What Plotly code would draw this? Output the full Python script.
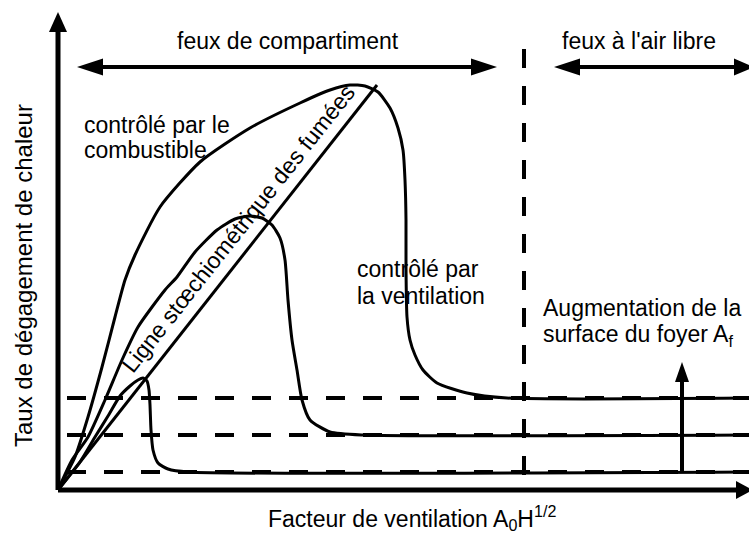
import math
import plotly.graph_objects as go

# Courbe haute (grand foyer)
grand_x = [0, 17, 30, 44, 57, 67, 77, 102, 142, 192, 242, 272, 292, 307, 320, 332, 340, 345, 347, 348, 348, 349, 352, 357, 365, 379, 409, 449, 700]
grand_y = [0, 33, 73, 123, 173, 210, 235, 283, 328, 362, 387, 400, 405, 404, 398, 382, 362, 340, 310, 270, 223, 173, 150, 135, 120, 107, 97, 92, 92]

# Courbe moyenne
moyen_x = [0, 14, 30, 47, 64, 80, 107, 119, 137, 159, 177, 192, 204, 214, 222, 227, 230, 234, 239, 244, 252, 272, 305, 700]
moyen_y = [0, 30, 53, 90, 130, 163, 200, 213, 238, 260, 271, 274, 272, 265, 252, 230, 190, 150, 120, 90, 70, 58, 55, 55]

# Courbe basse (petit foyer)
petit_x = [0, 22, 37, 50, 62, 72, 80, 85, 89, 91, 92, 93, 95, 100, 110, 130, 700]
petit_y = [0, 28, 53, 74, 94, 104, 110, 112, 109, 100, 85, 60, 40, 27, 21, 18, 18]

# Ligne stoechiométrique
stoech_x = [0, 319]
stoech_y = [0, 405]

# Paliers (tirets) et limite compartiment / air libre
paliers = [92, 55, 18]
limite_x = 466

noir = "black"
fig = go.Figure()

# Paliers en tirets
for p in paliers:
    fig.add_trace(go.Scatter(x=[9, 700], y=[p, p], mode="lines",
                             line=dict(color=noir, width=4, dash="19px,18px")))

# Limite verticale en tirets
fig.add_trace(go.Scatter(x=[limite_x, limite_x], y=[441, 12], mode="lines",
                         line=dict(color=noir, width=4, dash="19px,18px")))

# Courbes
for cx, cy in [(grand_x, grand_y), (moyen_x, moyen_y), (petit_x, petit_y)]:
    fig.add_trace(go.Scatter(x=cx, y=cy, mode="lines",
                             line=dict(color=noir, width=3, shape="spline", smoothing=0.6)))

fig.add_trace(go.Scatter(x=stoech_x, y=stoech_y, mode="lines", line=dict(color=noir, width=3)))


def fleche(x0, y0, x1, y1, w=4, long=26, demi=8.5):
    # trait + pointe triangulaire vers (x1, y1)
    dx, dy = x1 - x0, y1 - y0
    n = math.hypot(dx, dy)
    ux, uy = dx / n, dy / n
    bx, by = x1 - ux * long, y1 - uy * long
    fig.add_shape(type="line", x0=x0, y0=y0, x1=bx, y1=by, line=dict(color=noir, width=w))
    px_, py_ = -uy * demi, ux * demi
    fig.add_shape(type="path",
                  path=f"M {x1},{y1} L {bx + px_},{by + py_} L {bx - px_},{by - py_} Z",
                  fillcolor=noir, line=dict(color=noir, width=0))


# Axes
fleche(0, 0, 0, 478, w=5, long=20, demi=9)
fleche(0, 0, 695, 0, w=5, long=17, demi=9)

# Flèches du haut
fleche(230, 423, 19, 423)
fleche(230, 423, 439, 423)
fleche(600, 423, 496, 423)
fleche(600, 423, 696, 423, long=20)

# Flèche d'augmentation
fleche(624, 18, 624, 128, w=4, long=20, demi=7)


def texte(t, x, y, xanchor="left", angle=0, taille=23):
    fig.add_annotation(x=x, y=y, text=t, showarrow=False, xanchor=xanchor, yanchor="middle",
                       textangle=angle,
                       font=dict(family="Liberation Sans, Arial, sans-serif", size=taille, color=noir))


texte("feux de compartiment", 117, 449)
texte("feux à l'air libre", 502, 449)
texte("contrôlé par le", 24, 365)
texte("combustible", 24, 340)
texte("contrôlé par", 297, 221)
texte("la ventilation", 297, 194)
texte("Augmentation de la", 483, 182)
texte("surface du foyer A<sub>f</sub>", 483, 155)
texte("Ligne stœchiométrique des fumées", 180, 261, xanchor="center", angle=-51.6)
texte("Taux de dégagement de chaleur", -35, 214, xanchor="center", angle=-90, taille=24)
texte("Facteur de ventilation A<sub>0</sub>H<sup>1/2</sup>", 354, -28, xanchor="center")

fig.update_layout(width=749, height=533, margin=dict(l=0, r=0, t=0, b=0),
                  plot_bgcolor="white", paper_bgcolor="white", showlegend=False,
                  xaxis=dict(range=[-58, 691], visible=False, fixedrange=True),
                  yaxis=dict(range=[-43, 490], visible=False, fixedrange=True))

fig.write_html("out.html", config={"displayModeBar": False},
               post_script="document.body.style.margin='0';")
